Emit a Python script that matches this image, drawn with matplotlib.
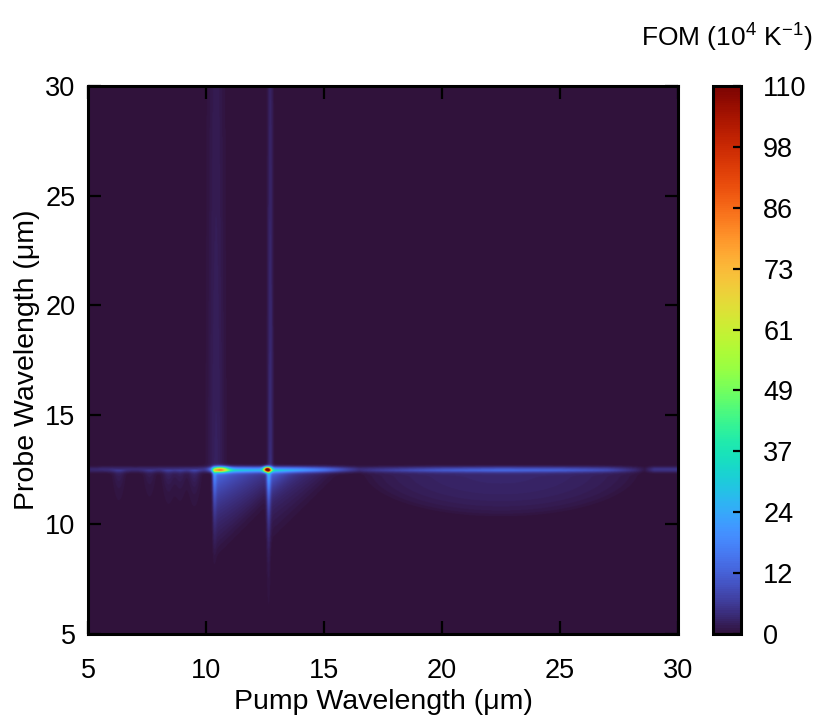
import numpy as np
import matplotlib
matplotlib.use("Agg")
import matplotlib.pyplot as plt

plt.rcParams['font.family'] = ['Liberation Sans', 'DejaVu Sans']
plt.rcParams['mathtext.fontset'] = 'custom'
plt.rcParams['mathtext.rm'] = 'Liberation Sans'

# ---------------- data ----------------
x_range = [5, 30]            # pump wavelength (um)
y_range = [5, 30]            # probe wavelength (um)
probe_line = 12.5            # probe wavelength of the horizontal ridge

# ridge amplitude along pump wavelength
ridge_x = [5, 6, 7, 8, 9, 9.8, 10.2, 10.35, 11, 12, 12.5, 13, 14, 15, 16, 16.5, 18, 20, 22.5, 25, 27, 28.2, 28.6, 29, 30]
ridge_v = [3, 4, 3.5, 4, 4.5, 5, 4, 24, 24, 22, 22, 22, 19, 14, 7, 4, 6, 9, 11, 10, 7.5, 3, 1, 5, 5]

# hot spots on the ridge: pump, amplitude, x width, y width
hot_x = [10.6, 12.6]
hot_a = [52, 108]
hot_wx = [0.33, 0.15]
hot_wy = [0.12, 0.11]

# pump resonances giving wedges / lines below the ridge
res_x = [10.3, 12.6]
wedge_a = [17, 10]
wedge_lx = [2.2, 1.8]
wedge_ly = [1.5, 1.3]
line_a = [10, 16]
line_ly = [1.2, 1.7]
above_a = [2.3, 4.0]
above_w = [0.35, 0.12]

# weak resonances on the short-wavelength side
weak_x = [6.3, 7.6, 8.4, 8.9, 9.5]
weak_a = [2.5, 2.0, 3.0, 2.5, 3.5]

# broad semi-elliptic glow below the ridge
glow_center = 22.5
glow_halfwidth = 6.0
glow_depth = 2.2
glow_a = 3.2

cbar_ticks = np.linspace(0, 110, 10)
cbar_labels = [f"{t:.0f}" for t in cbar_ticks]
x_ticks = [5, 10, 15, 20, 25, 30]
y_ticks = [5, 10, 15, 20, 25, 30]

# ---------------- build field ----------------
pump = np.linspace(x_range[0], x_range[1], 1200)
probe = np.linspace(y_range[0], y_range[1], 1200)
P, Q = np.meshgrid(pump, probe)
d = probe_line - Q               # depth below ridge
below = d > 0

Z = np.zeros_like(P)
ridge_amp = np.interp(pump, ridge_x, ridge_v)[None, :]
Z += ridge_amp * np.exp(-(d / 0.13) ** 2)

for hx, ha, wx, wy in zip(hot_x, hot_a, hot_wx, hot_wy):
    Z += ha * np.exp(-((P - hx) / wx) ** 2 - (d / wy) ** 2)

def sig(t, w):
    return 1.0 / (1.0 + np.exp(-t / w))

for rx, wa, lx, ly, la, lly, aa, aw in zip(res_x, wedge_a, wedge_lx, wedge_ly,
                                            line_a, line_ly, above_a, above_w):
    dx = P - rx
    edge = sig(dx, 0.03)
    wedge = wa * edge * np.exp(-np.clip(dx, 0, None) / lx) * np.exp(-np.clip(d, 0, None) / ly)
    wedge *= sig(ly * 2.6 - d - 1.2 * np.clip(dx, 0, None), 0.35)
    line = la * np.exp(-((dx - 0.05) / 0.09) ** 2) * np.exp(-np.clip(d, 0, None) / lly)
    Z += np.where(below, wedge + line, 0)
    ab = aa * np.exp(-((dx - 0.12) / aw) ** 2) * np.exp(-np.clip(-d, 0, None) / 40)
    Z += np.where(~below, ab, 0)

for wx_, wa_ in zip(weak_x, weak_a):
    dx = P - wx_
    w = wa_ * np.exp(-(dx / 0.25) ** 2) * np.exp(-np.clip(d, 0, None) / 0.8)
    Z += np.where(below, w, 0)

r2 = ((P - glow_center) / glow_halfwidth) ** 2 + (d / glow_depth) ** 2
Z += np.where(below, glow_a * np.clip(1 - r2, 0, 1) ** 0.7, 0)

Z = np.clip(Z, 0, 110)

# ---------------- plot ----------------
fs_tick = 19.5
fs_label = 20.5

fig = plt.figure(figsize=(8.17, 7.16), dpi=100)
ax = fig.add_axes([88 / 817, 1 - 634 / 716, 590 / 817, 548 / 716])
cax = fig.add_axes([713 / 817, 1 - 634 / 716, 28 / 817, 548 / 716])

im = ax.imshow(Z, origin='lower', extent=[x_range[0], x_range[1], y_range[0], y_range[1]],
               cmap='turbo', vmin=0, vmax=110, aspect='auto', interpolation='bilinear')
ax.set_xlim(x_range)
ax.set_ylim(y_range)
ax.set_xticks(x_ticks)
ax.set_yticks(y_ticks)
ax.tick_params(direction='in', length=9.5, width=1.6, top=True, right=True,
               labelsize=fs_tick, color='black')
ax.tick_params(axis='x', pad=17)
ax.tick_params(axis='y', pad=9)
for s in ax.spines.values():
    s.set_linewidth(2.2)
ax.set_xlabel('Pump Wavelength (μm)', fontsize=fs_label, labelpad=4)
ax.set_ylabel('Probe Wavelength (μm)', fontsize=fs_label, labelpad=4)

cb = fig.colorbar(im, cax=cax, ticks=cbar_ticks)
cb.ax.set_yticklabels(cbar_labels)
cb.ax.tick_params(direction='in', length=6, width=1.6, labelsize=fs_tick, pad=16, right=True)
cb.outline.set_linewidth(2.2)

fig.text(0.994, 1 - 46 / 716, 'FOM (10$^{4}$ K$^{-1}$)', fontsize=19, ha='right', va='baseline')

fig.savefig('out.png', dpi=100)
